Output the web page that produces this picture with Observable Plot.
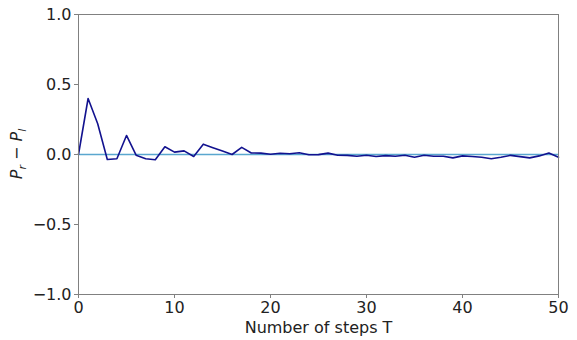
<!DOCTYPE html>
<html>
<head>
<meta charset="utf-8">
<script src="https://cdn.jsdelivr.net/npm/d3@7"></script>
<script src="https://cdn.jsdelivr.net/npm/@observablehq/plot@0.6"></script>
<style>
  html, body { margin: 0; padding: 0; background: #fff; }
  svg { font-family: "DejaVu Sans", sans-serif; }
</style>
</head>
<body>
<div id="chart"></div>
<script>
const steps = d3.range(0, 51);
const diff = [
  0.0, 0.40, 0.22, -0.036, -0.03, 0.136, -0.005, -0.03, -0.038, 0.055,
  0.017, 0.026, -0.014, 0.074, 0.049, 0.025, 0.0, 0.051, 0.011, 0.01,
  0.002, 0.009, 0.005, 0.013, -0.002, -0.001, 0.01, -0.005, -0.006, -0.013,
  -0.005, -0.014, -0.008, -0.013, -0.005, -0.019, -0.005, -0.012, -0.012, -0.024,
  -0.01, -0.014, -0.02, -0.03, -0.02, -0.006, -0.015, -0.024, -0.01, 0.01,
  -0.02
];
const xTicks = [0, 10, 20, 30, 40, 50];
const yTicks = [-1.0, -0.5, 0.0, 0.5, 1.0];
const data = steps.map((t, i) => ({t, d: diff[i]}));

const plot = Plot.plot({
  width: 577,
  height: 340,
  marginLeft: 78,
  marginRight: 19,
  marginTop: 14,
  marginBottom: 46,
  style: {fontSize: "16px", fontFamily: "DejaVu Sans", color: "#222", background: "#fff"},
  x: {domain: [0, 50]},
  y: {domain: [-1, 1]},
  marks: [
    Plot.ruleY([0], {stroke: "#5aa7cf", strokeWidth: 1.5}),
    Plot.line(data, {x: "t", y: "d", stroke: "#12128f", strokeWidth: 1.6}),
    Plot.frame({stroke: "#808080", strokeWidth: 1}),
    Plot.axisX(xTicks, {tickSize: 4, tickPadding: 3, stroke: "#808080", label: null, fill: "#222"}),
    Plot.axisY(yTicks, {tickSize: 4, tickPadding: 3, stroke: "#808080", label: null, fill: "#222",
      tickFormat: d => d3.format(".1f")(d).replace("-", "\u2212")}),
    Plot.text(["Number of steps T"], {frameAnchor: "bottom", dy: 38, fontSize: 16, fill: "#222"})
  ]
});

const svg = d3.select(plot);
const yl = svg.append("text")
  .attr("transform", "translate(22,154) rotate(-90)")
  .attr("text-anchor", "middle")
  .attr("font-size", 16)
  .attr("fill", "#222");
yl.append("tspan").attr("font-style", "italic").text("P");
yl.append("tspan").attr("font-style", "italic").attr("font-size", 11).attr("dy", 4).text("r");
yl.append("tspan").attr("dy", -4).text(" \u2212 ");
yl.append("tspan").attr("font-style", "italic").text("P");
yl.append("tspan").attr("font-style", "italic").attr("font-size", 11).attr("dy", 4).text("l");

document.getElementById("chart").appendChild(plot);
</script>
</body>
</html>
